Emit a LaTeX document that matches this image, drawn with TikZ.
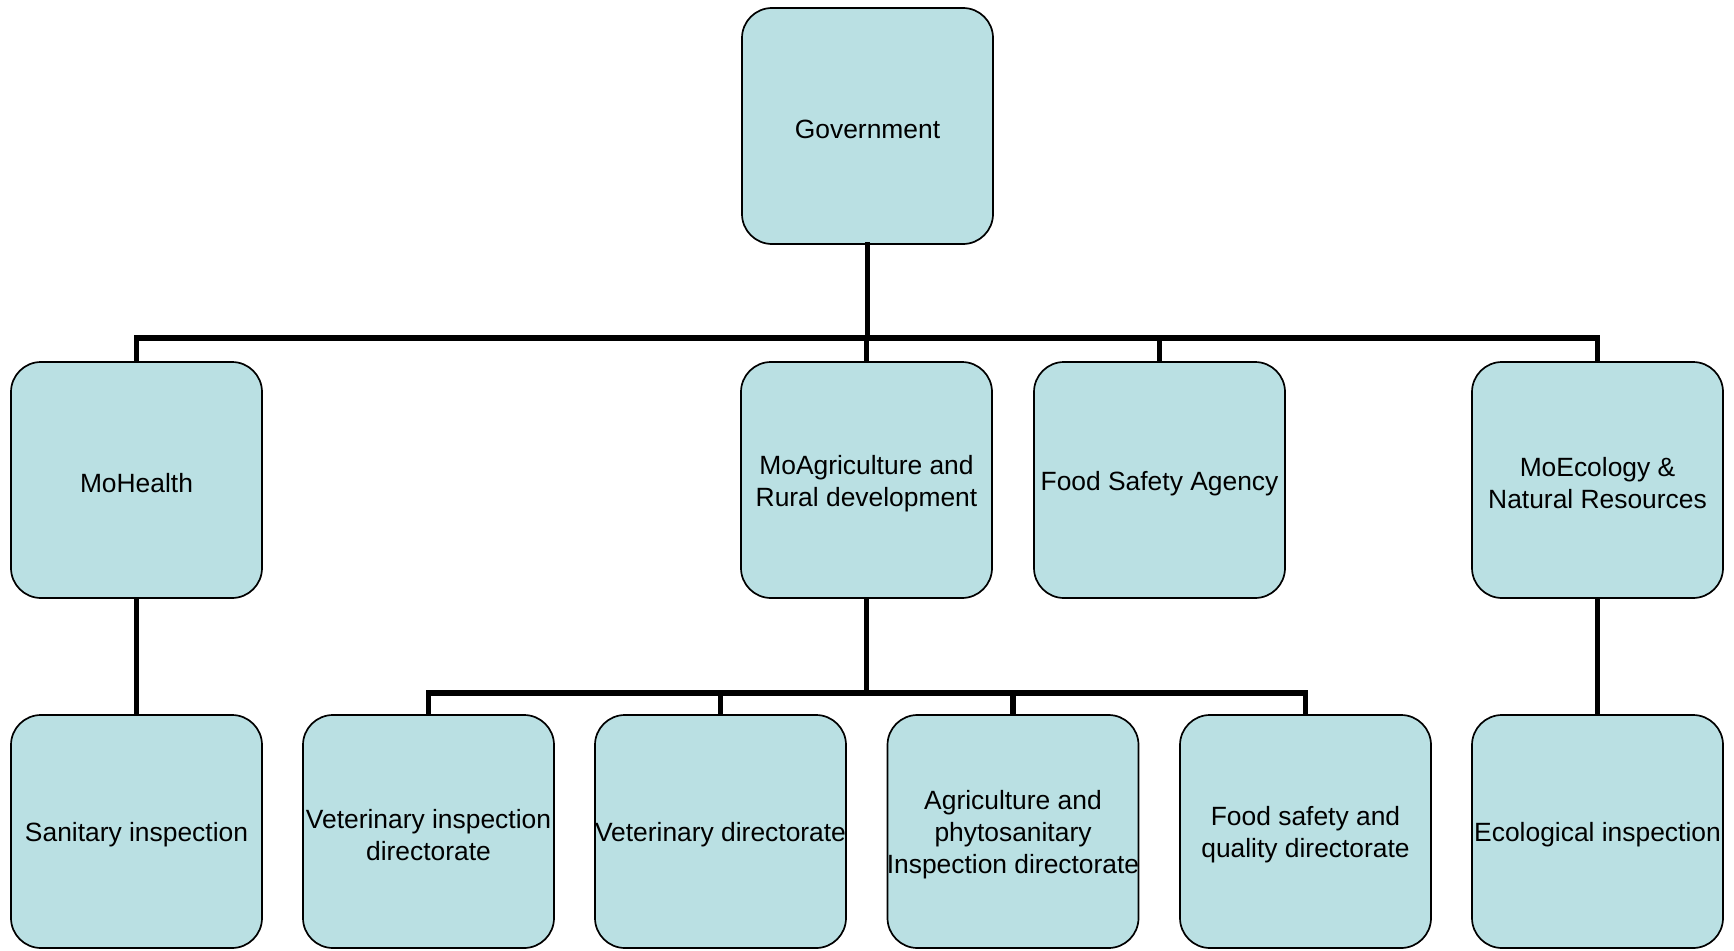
\documentclass[tikz,border=0pt]{standalone}
\usepackage{fontspec}
\setmainfont{Liberation Sans}
\definecolor{boxfill}{RGB}{186,224,227}
\begin{document}
\begin{tikzpicture}[x=1pt,y=-1pt,
  txt/.style={inner sep=0pt, align=center, yshift=-3.5pt, font=\fontsize{26.4}{32}\selectfont},
  orgbox/.style={draw=black, line width=1.7pt, fill=boxfill, rounded corners=30pt,
    minimum width=251pt, minimum height=236pt, inner sep=0pt},
  lowbox/.style={orgbox, minimum height=233pt},
  conn/.style={line width=5.2pt, line join=miter, line cap=butt}]
\useasboundingbox (0,0) rectangle (1734,950);
% top
\node[orgbox, label={[txt]center:Government}] (gov) at (867.5,126) {};
% row 1
\node[orgbox, label={[txt]center:MoHealth}] (health) at (136.5,480) {};
\node[orgbox, label={[txt]center:MoAgriculture and\\Rural development}] (agri) at (866.5,480) {};
\node[orgbox, label={[txt]center:Food Safety Agency}] (fsa) at (1159.5,480) {};
\node[orgbox, label={[txt]center:MoEcology \&\\Natural Resources}] (eco) at (1597.5,480) {};
% row 2
\node[lowbox, label={[txt]center:Sanitary inspection}] (san) at (136.5,831.5) {};
\node[lowbox, label={[txt]center:Veterinary inspection\\directorate}] (vetins) at (428.5,831.5) {};
\node[lowbox, label={[txt]center:Veterinary directorate}] (vet) at (720.5,831.5) {};
\node[lowbox, label={[txt]center:Agriculture and\\phytosanitary\\Inspection directorate}] (phyto) at (1013,831.5) {};
\node[lowbox, label={[txt]center:Food safety and\\quality directorate}] (fsq) at (1305.5,831.5) {};
\node[lowbox, label={[txt]center:Ecological inspection}] (ecoins) at (1597.5,831.5) {};
% bus coordinates
\coordinate (bus1) at (866.5,338);
\coordinate (bus2) at (866.5,693);
% connectors
\draw[conn, line cap=rect] (gov.south) -- (gov.south |- bus1);
\draw[conn] (health.north) -- (health.north |- bus1) -| (eco.north);
\draw[conn] (agri.north) -- (agri.north |- bus1);
\draw[conn] (fsa.north) -- (fsa.north |- bus1);
\draw[conn] (agri.south) -- (bus2);
\draw[conn] (vetins.north) -- (vetins.north |- bus2) -| (fsq.north);
\draw[conn] (vet.north) -- (vet.north |- bus2);
\draw[conn] (phyto.north) -- (phyto.north |- bus2);
\draw[conn] (health.south) -- (san.north);
\draw[conn] (eco.south) -- (ecoins.north);
\end{tikzpicture}
\end{document}
